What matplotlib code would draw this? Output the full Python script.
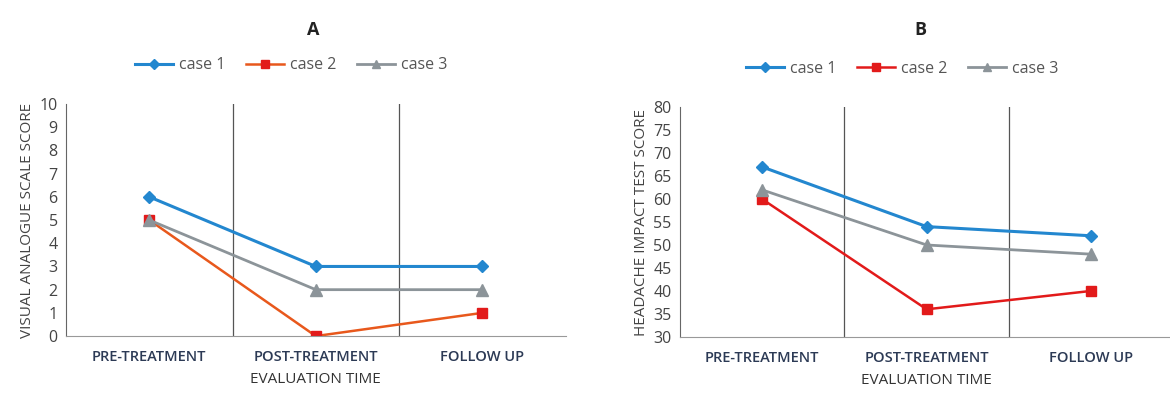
import matplotlib.pyplot as plt

# evaluation points
categories = ["PRE-TREATMENT", "POST-TREATMENT", "FOLLOW UP"]
series_names = ["case 1", "case 2", "case 3"]

# panel A: visual analogue scale
vas_case1 = [6, 3, 3]
vas_case2 = [5, 0, 1]
vas_case3 = [5, 2, 2]
vas_ticks = list(range(0, 11))

# panel B: headache impact test
hit_case1 = [67, 54, 52]
hit_case2 = [60, 36, 40]
hit_case3 = [62, 50, 48]
hit_ticks = list(range(30, 81, 5))

plt.rcParams['font.family'] = ['Open Sans', 'DejaVu Sans']

fig = plt.figure(figsize=(11.7, 3.94), dpi=100)
axA = fig.add_axes([0.0564, 0.147, 0.427, 0.589])
axB = fig.add_axes([0.581, 0.145, 0.422, 0.583])


def draw_panel(ax, ys, line2_color, ticks, ylabel):
    x = range(len(categories))
    ax.plot(x, ys[0], color='#2387cf', lw=2.2, marker='D', ms=6.5,
            label=series_names[0])
    ax.plot(x, ys[1], color=line2_color, lw=1.8, marker='s', ms=7.5,
            mfc='#e21a1a', mec='#e21a1a', label=series_names[1])
    ax.plot(x, ys[2], color='#8c9499', lw=2.0, marker='^', ms=8,
            label=series_names[2])
    ax.set_xlim(-0.5, len(categories) - 0.5)
    ax.set_ylim(ticks[0], ticks[-1])
    ax.set_yticks(ticks)
    ax.set_xticks(list(x))
    ax.set_xticklabels(categories, fontsize=10.5, color='#2c3a55',
                       fontweight='semibold')
    ax.tick_params(axis='y', length=0, labelsize=11.5, labelcolor='#444444',
                   pad=6)
    ax.tick_params(axis='x', length=0, pad=10)
    # separators between categories
    for b in [0.5, 1.5]:
        ax.axvline(b, color='#555555', lw=0.9, zorder=0)
    for s in ['top', 'right']:
        ax.spines[s].set_visible(False)
    ax.spines['left'].set_color('#666666')
    ax.spines['bottom'].set_color('#999999')
    ax.set_ylabel(ylabel, fontsize=11, color='#444444', labelpad=3)
    ax.set_xlabel("EVALUATION TIME", fontsize=11, color='#333333',
                  labelpad=6)
    ax.legend(loc='lower center', bbox_to_anchor=(0.45, 1.07), ncol=3,
              frameon=False, fontsize=11.5, handlelength=2.4,
              markerscale=0.75, columnspacing=1.3, handletextpad=0.35,
              labelcolor='#555555')


draw_panel(axA, [vas_case1, vas_case2, vas_case3], '#e8581c', vas_ticks,
           "VISUAL ANALOGUE SCALE SCORE")
draw_panel(axB, [hit_case1, hit_case2, hit_case3], '#e21a1a', hit_ticks,
           "HEADACHE IMPACT TEST SCORE")

fig.text(0.268, 0.925, "A", fontsize=13, fontweight='bold', ha='center',
         va='center', color='#222222')
fig.text(0.787, 0.925, "B", fontsize=13, fontweight='bold', ha='center',
         va='center', color='#222222')

fig.savefig("out.png", dpi=100)
